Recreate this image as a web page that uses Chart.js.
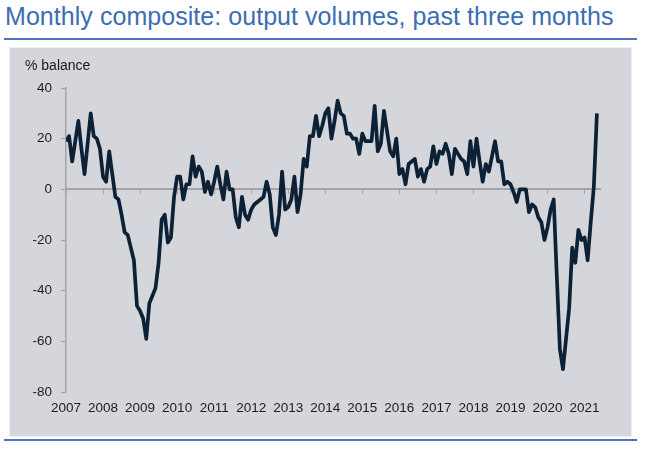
<!DOCTYPE html>
<html>
<head>
<meta charset="utf-8">
<script src="https://cdn.jsdelivr.net/npm/chart.js@4.4.0/dist/chart.umd.min.js"></script>
<style>
  html, body { margin: 0; padding: 0; background: #fff; }
  body { width: 651px; height: 459px; position: relative; overflow: hidden; font-family: "Liberation Sans", Arial, sans-serif; }
  #title { position: absolute; left: 5px; top: 2px; font-size: 25px; color: #3b6db4; white-space: nowrap; letter-spacing: 0.05px; }
  .rule { position: absolute; left: 4px; width: 633px; height: 2px; background: #4a76bf; }
  #panel { position: absolute; left: 9px; top: 47px; width: 621px; height: 388px; background: #d5d6db; border: 1px solid #eeeef1; }
  #unit { position: absolute; left: 25px; top: 57px; font-size: 14px; color: #1a1a1a; }
  canvas { position: absolute; left: -1px; top: -1px; }
</style>
</head>
<body>
<div id="title">Monthly composite: output volumes, past three months</div>
<div class="rule" style="top:38px"></div>
<div id="panel"><canvas id="canvas" width="623" height="390"></canvas></div>
<div id="unit">% balance</div>
<div class="rule" style="top:439px"></div>
<script>
// tick labels on the x axis, one per January
const years = ['2007', '2008', '2009', '2010', '2011', '2012', '2013', '2014',
               '2015', '2016', '2017', '2018', '2019', '2020', '2021']

// % balance, monthly from Jan 2007
const balance = [
  19, 21, 11, 19, 27, 16, 6, 18, 30, 21, 20, 16,          // 2007
  5, 3, 15, 6, -3, -4, -10, -17, -18, -23, -28, -46,      // 2008
  -48, -51, -59, -45, -42, -39, -29, -12, -10, -21, -19, -3, // 2009
  5, 5, -4, 2, 2, 13, 5, 9, 7, -1, 3, -2,                 // 2010
  3, 9, 2, -4, 7, 0, 0, -11, -15, -3, -10, -12,           // 2011
  -8, -6, -5, -4, -3, 3, -2, -15, -18, -10, 7, -8,        // 2012
  -7, -4, 5, -9, -2, 12, 9, 21, 21, 29, 21, 25,           // 2013
  30, 32, 20, 27, 35, 30, 29, 22, 22, 20, 20, 14,         // 2014
  22, 19, 19, 19, 33, 15, 18, 31, 23, 15, 13, 20,         // 2015
  6, 8, 2, 10, 11, 12, 5, 8, 3, 8, 9, 17,                 // 2016
  10, 15, 14, 18, 14, 6, 16, 14, 12, 11, 6, 19,           // 2017
  9, 20, 11, 3, 10, 7, 13, 19, 11, 11, 2, 3,              // 2018
  2, -1, -5, 0, 0, 0, -9, -6, -7, -11, -13, -20,          // 2019
  -15, -8, -4, -34, -63, -71, -59, -47, -23, -29, -16, -20, // 2020
  -19, -28, -13, 1, 30                                    // 2021
]

const yTicks = [-80, -60, -40, -20, 0, 20, 40]

const axisGrey = '#a3a4a8'
const textColour = '#1c1c1c'
const tickFont = { family: 'Liberation Sans', size: 13.5 }
const yearTicks = scale => { scale.ticks = years.map((y, i) => ({ value: i * 12 })) }

const points = balance.map((v, i) => ({ x: i, y: v }))

new Chart(document.getElementById('canvas'), {
  type: 'line',
  data: {
    datasets: [{
      label: 'Output volumes',
      data: points,
      borderColor: '#0c2135',
      borderWidth: 3.7,
      borderJoinStyle: 'round',
      pointRadius: 0,
      tension: 0,
      fill: false
    }]
  },
  options: {
    responsive: false,
    animation: false,
    events: [],
    layout: { padding: { left: 0, top: 41, right: 32, bottom: 15 } },
    plugins: { legend: { display: false }, tooltip: { enabled: false } },
    scales: {
      x: {
        type: 'linear',
        position: { y: 0 },
        min: 0,
        max: 173,
        afterBuildTicks: yearTicks,
        ticks: { display: false },
        grid: { drawOnChartArea: false, drawTicks: true, tickLength: 4, color: axisGrey },
        border: { display: true, color: axisGrey, width: 2 }
      },
      x2: {
        type: 'linear',
        position: 'bottom',
        min: 0,
        max: 173,
        afterBuildTicks: yearTicks,
        afterFit: s => { s.height = 30 },
        ticks: {
          autoSkip: false,
          maxRotation: 0,
          padding: 8,
          color: textColour,
          font: tickFont,
          callback: (v) => years[v / 12]
        },
        grid: { display: false, drawTicks: false },
        border: { display: false }
      },
      y: {
        type: 'linear',
        position: 'left',
        min: -80,
        max: 40,
        afterBuildTicks: s => { s.ticks = yTicks.map(v => ({ value: v })) },
        afterFit: s => { s.width = 57 },
        ticks: { padding: 9, color: textColour, font: tickFont },
        grid: { drawOnChartArea: false, drawTicks: true, tickLength: 5, color: axisGrey },
        border: { display: true, color: axisGrey, width: 1.5 }
      }
    }
  }
})
</script>
</body>
</html>
